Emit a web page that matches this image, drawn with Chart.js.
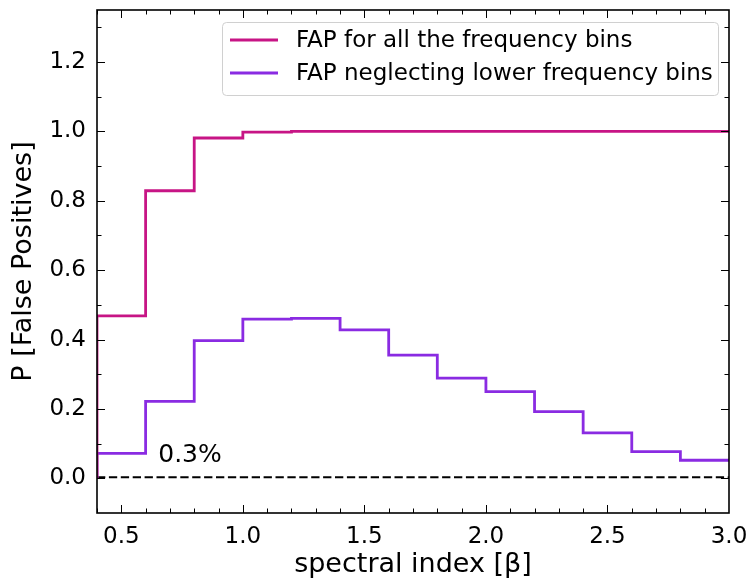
<!DOCTYPE html>
<html>
<head>
<meta charset="utf-8">
<script src="https://cdn.jsdelivr.net/npm/chart.js@4/dist/chart.umd.min.js"></script>
<style>
  html, body { margin: 0; padding: 0; background: #fff; }
  #wrap { width: 751px; height: 581px; }
</style>
</head>
<body>
<div id="wrap"><canvas id="fapChart" width="751" height="581"></canvas></div>
<script>
// bin edges of spectral index and FAP per bin
var binEdges = [0.4, 0.6, 0.8, 1.0, 1.2, 1.4, 1.6, 1.8, 2.0, 2.2, 2.4, 2.6, 2.8, 3.0];
var fapAll = [0.468, 0.829, 0.981, 0.998, 1.0, 1.0, 1.0, 1.0, 1.0, 1.0, 1.0, 1.0, 1.0];
var fapHigh = [0.072, 0.222, 0.397, 0.459, 0.461, 0.428, 0.355, 0.289, 0.250, 0.192, 0.131, 0.077, 0.052];
var threshold = 0.003;
var xTicks = [0.5, 1.0, 1.5, 2.0, 2.5, 3.0];
var yTicks = [0.0, 0.2, 0.4, 0.6, 0.8, 1.0, 1.2];
var xMinor = [0.4, 0.6, 0.7, 0.8, 0.9, 1.1, 1.2, 1.3, 1.4, 1.6, 1.7, 1.8, 1.9, 2.1, 2.2, 2.3, 2.4, 2.6, 2.7, 2.8, 2.9];
var yMinor = [-0.1, 0.1, 0.3, 0.5, 0.7, 0.9, 1.1, 1.3];

var FONT = "'DejaVu Sans', sans-serif";

// histogram-style step points, starting from zero at the first edge
function stepPoints(vals) {
    var pts = [{ x: binEdges[0], y: 0 }];
    for (var i = 0; i < vals.length; i++) {
        pts.push({ x: binEdges[i], y: vals[i] });
    }
    pts.push({ x: binEdges[binEdges.length - 1], y: vals[vals.length - 1] });
    return pts;
}

var axesDeco = {
    id: 'axesDeco',
    afterDatasetsDraw: function (chart) {
        var ctx = chart.ctx, a = chart.chartArea;
        var xs = chart.scales.x, ys = chart.scales.y;
        ctx.save();
        ctx.strokeStyle = '#000';
        ctx.lineWidth = 1;
        function xt(v, len) {
            var p = Math.round(xs.getPixelForValue(v)) + 0.5;
            if (p < a.left || p > a.right) return;
            ctx.beginPath();
            ctx.moveTo(p, a.bottom); ctx.lineTo(p, a.bottom - len);
            ctx.moveTo(p, a.top); ctx.lineTo(p, a.top + len);
            ctx.stroke();
        }
        function yt(v, len) {
            var p = Math.round(ys.getPixelForValue(v)) + 0.5;
            if (p < a.top || p > a.bottom) return;
            ctx.beginPath();
            ctx.moveTo(a.left, p); ctx.lineTo(a.left + len, p);
            ctx.moveTo(a.right, p); ctx.lineTo(a.right - len, p);
            ctx.stroke();
        }
        xTicks.forEach(function (v) { xt(v, 8); });
        xMinor.forEach(function (v) { xt(v, 4.5); });
        yTicks.forEach(function (v) { yt(v, 8); });
        yMinor.forEach(function (v) { yt(v, 4.5); });

        // frame
        ctx.lineWidth = 1.6;
        ctx.strokeRect(a.left, a.top, a.right - a.left, a.bottom - a.top);

        // threshold text
        ctx.fillStyle = '#000';
        ctx.font = '25px ' + FONT;
        ctx.textAlign = 'left';
        ctx.textBaseline = 'alphabetic';
        ctx.fillText('0.3%', xs.getPixelForValue(0.652), ys.getPixelForValue(0.048));

        // legend box
        var lx = 222, ly = 22, lw = 496, lh = 73;
        ctx.beginPath();
        ctx.roundRect(lx + 0.5, ly + 0.5, lw, lh, 4);
        ctx.fillStyle = 'rgba(255,255,255,0.8)';
        ctx.fill();
        ctx.strokeStyle = '#d0d0d0';
        ctx.lineWidth = 1;
        ctx.stroke();
        ctx.font = '23px ' + FONT;
        ctx.textBaseline = 'middle';
        var items = chart.data.datasets.filter(function (d) { return d.label; });
        items.forEach(function (d, i) {
            var yy = ly + 18 + i * 33;
            ctx.strokeStyle = d.borderColor;
            ctx.lineWidth = 2.8;
            ctx.beginPath();
            ctx.moveTo(lx + 8, yy); ctx.lineTo(lx + 56, yy);
            ctx.stroke();
            ctx.fillStyle = '#000';
            ctx.fillText(d.label, lx + 74, yy + 1);
        });
        ctx.restore();
    }
};

function noPad(s) {
    s.paddingTop = 0; s.paddingBottom = 0; s.paddingLeft = 0; s.paddingRight = 0;
}

new Chart(document.getElementById('fapChart'), {
    type: 'line',
    data: {
        datasets: [{
            label: 'FAP for all the frequency bins',
            data: stepPoints(fapAll),
            borderColor: '#c71585',
            borderWidth: 2.8,
            stepped: 'before',
            pointRadius: 0,
            fill: false
        }, {
            label: 'FAP neglecting lower frequency bins',
            data: stepPoints(fapHigh),
            borderColor: '#8a2be2',
            borderWidth: 2.8,
            stepped: 'before',
            pointRadius: 0,
            fill: false
        }, {
            label: '',
            data: [{ x: binEdges[0], y: threshold }, { x: binEdges[binEdges.length - 1], y: threshold }],
            borderColor: '#000',
            borderWidth: 1.8,
            borderDash: [8.3, 3.6],
            pointRadius: 0,
            fill: false
        }]
    },
    options: {
        responsive: false,
        animation: false,
        layout: { padding: { left: 0, top: 10, right: 22, bottom: 0 } },
        plugins: { legend: { display: false }, tooltip: { enabled: false } },
        scales: {
            x: {
                type: 'linear',
                min: 0.4,
                max: 3.0,
                afterBuildTicks: function (s) { s.ticks = xTicks.map(function (v) { return { value: v }; }); },
                afterFit: function (s) { s.height = 68; noPad(s); },
                grid: { display: false, drawTicks: false },
                border: { display: false },
                ticks: {
                    color: '#000',
                    padding: 10,
                    maxRotation: 0,
                    font: { family: FONT, size: 23 },
                    callback: function (v) { return v.toFixed(1); }
                },
                title: {
                    display: true,
                    text: 'spectral index [β]',
                    color: '#000',
                    font: { family: FONT, size: 27 },
                    padding: { top: 0, bottom: 0 }
                }
            },
            y: {
                type: 'linear',
                min: -0.1,
                max: 1.35,
                afterBuildTicks: function (s) { s.ticks = yTicks.map(function (v) { return { value: v }; }); },
                afterFit: function (s) { s.width = 97; noPad(s); },
                grid: { display: false, drawTicks: false },
                border: { display: false },
                ticks: {
                    color: '#000',
                    padding: 11,
                    font: { family: FONT, size: 23 },
                    callback: function (v) { return v.toFixed(1); }
                },
                title: {
                    display: true,
                    text: 'P [False Positives]',
                    color: '#000',
                    font: { family: FONT, size: 27 },
                    padding: { top: 8, bottom: 4 }
                }
            }
        }
    },
    plugins: [axesDeco]
});
</script>
</body>
</html>
